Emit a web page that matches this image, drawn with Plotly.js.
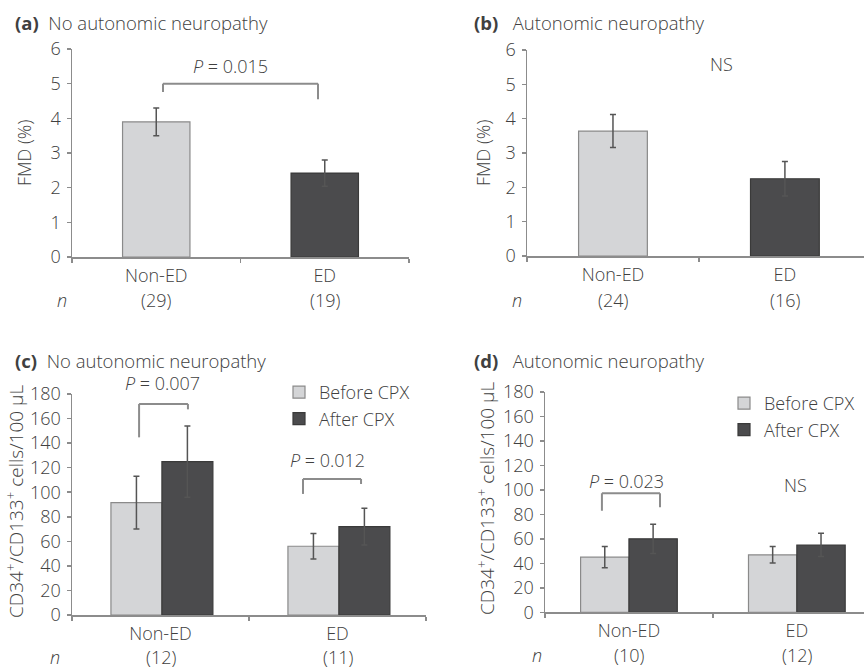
<!DOCTYPE html>
<html>
<head>
<meta charset="utf-8">
<script src="https://cdn.plot.ly/plotly-3.0.1.min.js"></script>
<style>html,body{margin:0;padding:0;background:#fff;}#chart{width:864px;height:670px;}</style>
</head>
<body>
<div id="chart"></div>
<script>
// ---- data ----
const categories = ['Non-ED', 'ED'];
const nA = [29, 19];
const nB = [24, 16];
const nC = [12, 11];
const nD = [10, 12];

const fmdNoAN = [3.9, 2.42];
const fmdNoANErr = [0.4, 0.38];
const fmdAN = [3.64, 2.25];
const fmdANErr = [0.48, 0.5];

const cBefore = [91.5, 56];
const cBeforeErr = [21.5, 10.3];
const cAfter = [125, 72];
const cAfterErr = [29, 15];

const dBefore = [45, 47];
const dBeforeErr = [8.7, 6.7];
const dAfter = [60, 55];
const dAfterErr = [12, 9.5];

const seriesNames = ['Before CPX', 'After CPX'];

// ---- styles ----
const FONT = 'Open Sans, Noto Sans, sans-serif';
const TXT = '#404040';
const WT = 300;
const LIGHT = '#d4d5d7', LIGHT_LINE = '#8a8a8a';
const DARK = '#4b4b4d', DARK_LINE = '#3a3a3a';
const AXC = '#8c8c8c';
const ERRC = '#555555';

function errY(arr) { return {type: 'data', array: arr, visible: true, color: ERRC, thickness: 1.5, width: 3}; }

const traces = [
  {type: 'bar', x: categories, y: fmdNoAN, xaxis: 'x', yaxis: 'y', width: 0.4, offset: -0.2,
   marker: {color: [LIGHT, DARK], line: {color: [LIGHT_LINE, DARK_LINE], width: 1.2}},
   error_y: errY(fmdNoANErr), showlegend: false, hoverinfo: 'skip'},
  {type: 'bar', x: categories, y: fmdAN, xaxis: 'x2', yaxis: 'y2', width: 0.4, offset: -0.2,
   marker: {color: [LIGHT, DARK], line: {color: [LIGHT_LINE, DARK_LINE], width: 1.2}},
   error_y: errY(fmdANErr), showlegend: false, hoverinfo: 'skip'},
  {type: 'bar', name: seriesNames[0], x: categories, y: cBefore, xaxis: 'x3', yaxis: 'y3', width: 0.288, offset: -0.28,
   marker: {color: LIGHT, line: {color: LIGHT_LINE, width: 1.2}}, error_y: errY(cBeforeErr), legend: 'legend'},
  {type: 'bar', name: seriesNames[1], x: categories, y: cAfter, xaxis: 'x3', yaxis: 'y3', width: 0.288, offset: 0.008,
   marker: {color: DARK, line: {color: DARK_LINE, width: 1.2}}, error_y: errY(cAfterErr), legend: 'legend'},
  {type: 'bar', name: seriesNames[0], x: categories, y: dBefore, xaxis: 'x4', yaxis: 'y4', width: 0.288, offset: -0.288,
   marker: {color: LIGHT, line: {color: LIGHT_LINE, width: 1.2}}, error_y: errY(dBeforeErr), legend: 'legend2'},
  {type: 'bar', name: seriesNames[1], x: categories, y: dAfter, xaxis: 'x4', yaxis: 'y4', width: 0.288, offset: 0,
   marker: {color: DARK, line: {color: DARK_LINE, width: 1.2}}, error_y: errY(dAfterErr), legend: 'legend2'}
];

const W = 864, H = 670;
function px(v) { return v / W; }
function py(v) { return 1 - v / H; }
function F(size) { return {family: FONT, size: size, color: TXT, weight: WT}; }

function xAxis(d0, d1, r1) {
  return {domain: [px(d0), Math.min(1, px(d1))], type: 'category', range: [-0.5, r1], showline: true, linecolor: AXC, linewidth: 1.5,
    ticks: 'outside', tickson: 'boundaries', ticklen: 4, tickcolor: AXC, tickwidth: 1.5, showgrid: false, zeroline: false,
    ticklabelstandoff: 2, tickfont: F(18), fixedrange: true};
}
function yAxis(top, bottom, rmax, dt, anchor) {
  return {domain: [py(bottom), py(top)], range: [0, rmax], dtick: dt, showline: true, linecolor: AXC, linewidth: 1.5,
    ticks: 'outside', ticklen: 4, tickcolor: AXC, tickwidth: 1.5, showgrid: false, zeroline: false,
    ticklabelstandoff: 2, tickfont: F(18), anchor: anchor, fixedrange: true};
}

const annotations = [];
function ann(o) { annotations.push(Object.assign({showarrow: false, font: F(18)}, o)); }

// panel titles
ann({text: '<b>(a)</b>  No autonomic neuropathy', xref: 'paper', yref: 'paper', x: px(13), y: py(22), xanchor: 'left', yanchor: 'middle', font: F(18.5)});
ann({text: '<b>(b)</b>   Autonomic neuropathy', xref: 'paper', yref: 'paper', x: px(472), y: py(22), xanchor: 'left', yanchor: 'middle', font: F(18.5)});
ann({text: '<b>(c)</b>  No autonomic neuropathy', xref: 'paper', yref: 'paper', x: px(13), y: py(361), xanchor: 'left', yanchor: 'middle', font: F(18.5)});
ann({text: '<b>(d)</b>   Autonomic neuropathy', xref: 'paper', yref: 'paper', x: px(472), y: py(361), xanchor: 'left', yanchor: 'middle', font: F(18.5)});

// y-axis titles
ann({text: 'FMD (%)', textangle: -90, xref: 'paper', yref: 'paper', x: px(24), y: py(153), xanchor: 'center', yanchor: 'middle'});
ann({text: 'FMD (%)', textangle: -90, xref: 'paper', yref: 'paper', x: px(483), y: py(153), xanchor: 'center', yanchor: 'middle'});
ann({text: 'CD34<sup>+</sup>/CD133<sup>+</sup> cells/100 µL', textangle: -90, xref: 'paper', yref: 'paper', x: px(15), y: py(502), xanchor: 'center', yanchor: 'middle', font: F(19)});
ann({text: 'CD34<sup>+</sup>/CD133<sup>+</sup> cells/100 µL', textangle: -90, xref: 'paper', yref: 'paper', x: px(486), y: py(499), xanchor: 'center', yanchor: 'middle', font: F(19)});

// n counts
const nRows = [[nA, 'x', 62, 300], [nB, 'x2', 517, 300], [nC, 'x3', 55, 657], [nD, 'x4', 537, 655]];
nRows.forEach(([arr, xr, nx, ny]) => {
  ann({text: '<i>n</i>', xref: 'paper', yref: 'paper', x: px(nx), y: py(ny), xanchor: 'center', yanchor: 'middle'});
  arr.forEach((v, i) => ann({text: '(' + v + ')', xref: xr, yref: 'paper', x: i, y: py(ny), xanchor: 'center', yanchor: 'middle'}));
});

// significance labels
ann({text: '<i>P</i> = 0.015', xref: 'x', yref: 'y', x: 0.44, y: 5.5, yanchor: 'middle'});
ann({text: 'NS', xref: 'x2', yref: 'y2', x: 0.632, y: 5.58, yanchor: 'middle'});
ann({text: '<i>P</i> = 0.007', xref: 'x3', yref: 'paper', x: 0.014, y: py(383), yanchor: 'middle'});
ann({text: '<i>P</i> = 0.012', xref: 'x3', yref: 'y3', x: 0.946, y: 126.3, yanchor: 'middle'});
ann({text: '<i>P</i> = 0.023', xref: 'x4', yref: 'y4', x: -0.014, y: 107.6, yanchor: 'middle'});
ann({text: 'NS', xref: 'x4', yref: 'y4', x: 0.994, y: 104, yanchor: 'middle'});

// brackets: [xref, yref, xLeft, xRight, top, leftEnd, rightEnd]
const brackets = [
  ['x', 'y', 0.04, 0.96, 5.0, 4.76, 4.55],
  ['x3', 'y3', -0.121, 0.155, 171.9, 144.7, 167.5],
  ['x3', 'y3', 0.805, 1.133, 110.8, 98.6, 106.7],
  ['x4', 'y4', -0.161, 0.185, 97.2, 83, 85.8]
];
const shapes = [];
brackets.forEach(([xr, yr, x0, x1, top, l, r]) => {
  const line = {color: '#8c8c8c', width: 2};
  shapes.push({type: 'line', xref: xr, yref: yr, x0: x0, x1: x1, y0: top, y1: top, line: line});
  shapes.push({type: 'line', xref: xr, yref: yr, x0: x0, x1: x0, y0: top, y1: l, line: line});
  shapes.push({type: 'line', xref: xr, yref: yr, x0: x1, x1: x1, y0: top, y1: r, line: line});
});

const legendBase = {orientation: 'v', bgcolor: 'rgba(0,0,0,0)', borderwidth: 0, font: F(18),
  xanchor: 'left', yanchor: 'top', itemwidth: 30, tracegroupgap: 0, itemclick: false, itemdoubleclick: false};

const layout = {
  width: W, height: H,
  margin: {l: 0, r: 0, t: 0, b: 0, pad: 0, autoexpand: false},
  paper_bgcolor: '#ffffff', plot_bgcolor: 'rgba(0,0,0,0)',
  font: F(18),
  barmode: 'overlay',
  showlegend: true,
  xaxis: xAxis(72, 409, 1.5),
  yaxis: yAxis(49, 257, 6, 1, 'x'),
  xaxis2: xAxis(527, 871, 1.46),
  yaxis2: yAxis(50, 256, 6, 1, 'x2'),
  xaxis3: xAxis(72, 426, 1.5),
  yaxis3: yAxis(394, 615, 180, 20, 'x3'),
  xaxis4: xAxis(545, 871, 1.4),
  yaxis4: yAxis(392, 612.3, 180, 20, 'x4'),
  legend: Object.assign({}, legendBase, {x: px(279), y: py(374)}),
  legend2: Object.assign({}, legendBase, {x: px(724), y: py(385)}),
  annotations: annotations,
  shapes: shapes
};
layout.xaxis.anchor = 'y';
layout.xaxis2.anchor = 'y2';
layout.xaxis3.anchor = 'y3';
layout.xaxis4.anchor = 'y4';

Plotly.newPlot('chart', traces, layout, {displayModeBar: false, staticPlot: true});
</script>
</body>
</html>
